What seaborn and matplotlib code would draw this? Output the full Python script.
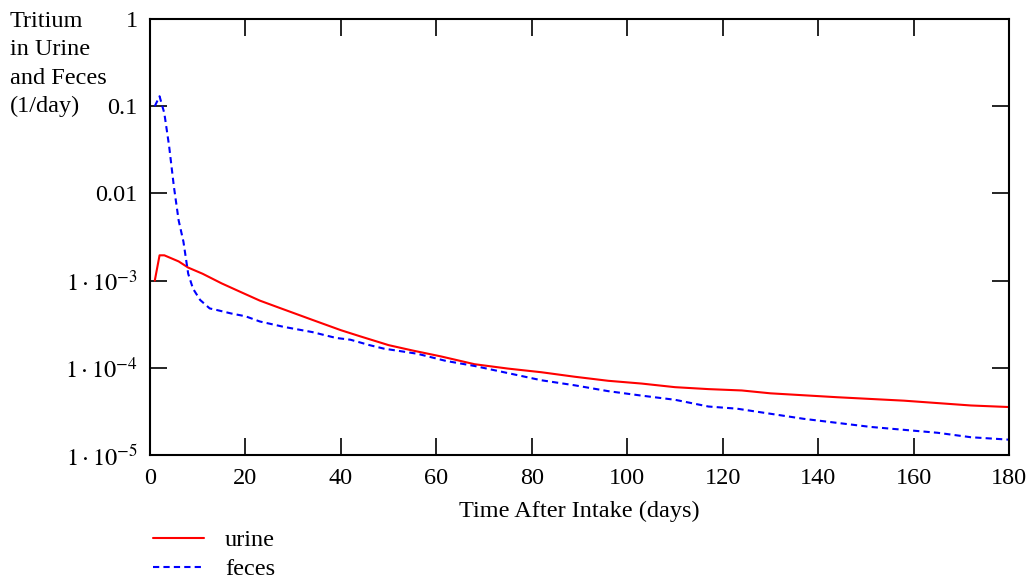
import matplotlib

matplotlib.use("Agg")
import matplotlib.pyplot as plt
import matplotlib.ticker as mticker
import seaborn as sns

# values (days after intake, fraction per day)
urine_days = [1, 2, 3, 6, 8, 11, 15, 19, 23, 27, 34, 40, 44, 50, 55, 61, 68,
              75, 82, 89, 96, 103, 110, 117, 124, 130, 144, 158, 172, 180]
urine = [1.0e-3, 1.95e-3, 1.95e-3, 1.66e-3, 1.41e-3, 1.20e-3, 9.3e-4, 7.4e-4,
         5.9e-4, 4.9e-4, 3.55e-4, 2.7e-4, 2.3e-4, 1.82e-4, 1.58e-4, 1.35e-4,
         1.10e-4, 9.8e-5, 8.9e-5, 7.9e-5, 7.1e-5, 6.6e-5, 6.0e-5, 5.7e-5,
         5.5e-5, 5.1e-5, 4.6e-5, 4.2e-5, 3.7e-5, 3.55e-5]

feces_days = [1, 2, 3, 4, 5, 6, 7, 8, 9, 10.5, 12.5, 14, 17, 20, 23, 28, 34,
              39, 42, 46, 49, 56, 62, 68, 75, 82, 89, 96, 103, 110, 117, 123,
              137, 151, 165, 172, 180]
feces = [0.10, 0.13, 0.083, 0.035, 0.012, 4.9e-3, 2.8e-3, 1.2e-3, 8.1e-4,
         6.0e-4, 4.8e-4, 4.6e-4, 4.2e-4, 3.9e-4, 3.4e-4, 2.95e-4, 2.57e-4,
         2.2e-4, 2.1e-4, 1.82e-4, 1.66e-4, 1.45e-4, 1.2e-4, 1.05e-4, 8.7e-5,
         7.2e-5, 6.3e-5, 5.4e-5, 4.8e-5, 4.3e-5, 3.6e-5, 3.4e-5, 2.6e-5,
         2.1e-5, 1.8e-5, 1.6e-5, 1.5e-5]

x_ticks = [0, 20, 40, 60, 80, 100, 120, 140, 160, 180]
y_ticks = [1, 0.1, 0.01, 1e-3, 1e-4, 1e-5]
y_tick_labels = ["1", "0.1", "0.01", r"$1\cdot10^{-3}$", r"$1\cdot10^{-4}$",
                 r"$1\cdot10^{-5}$"]

sns.set_style("ticks")
plt.rcParams["font.family"] = ["Liberation Serif", "DejaVu Serif"]
plt.rcParams["mathtext.fontset"] = "stix"
plt.rcParams["font.size"] = 17.5
plt.rcParams["text.color"] = "black"
plt.rcParams["axes.labelcolor"] = "black"

fig = plt.figure(figsize=(10.36, 5.86), dpi=100)
ax = fig.add_axes([0.1448, 0.2235, 0.8292, 0.7441])

sns.lineplot(x=urine_days, y=urine, ax=ax, color="#ff0000", linewidth=1.5,
             label="urine")
sns.lineplot(x=feces_days, y=feces, ax=ax, color="#0000ff", linewidth=1.5,
             linestyle=(0, (3, 2)), label="feces")

ax.set_yscale("log")
ax.set_xlim(0, 180)
ax.set_ylim(1e-5, 1)
ax.set_xticks(x_ticks)
ax.set_yticks(y_ticks)
ax.set_yticklabels(y_tick_labels)
ax.yaxis.set_minor_locator(mticker.NullLocator())
ax.tick_params(axis="both", which="major", direction="in", length=12,
               width=1.2, pad=9, labelsize=17.5, top=True, right=True,
               colors="black")
for side in ax.spines.values():
    side.set_linewidth(1.5)
    side.set_color("black")

ax.set_xlabel("Time After Intake (days)", fontsize=17.5, labelpad=9)
ax.set_ylabel("")
fig.text(10 / 1036, 1 - 11 / 586, "Tritium\nin Urine\nand Feces\n(1/day)",
         ha="left", va="top", fontsize=17.5, linespacing=1.46)

ax.legend(loc="upper left", bbox_to_anchor=(141 / 1036, 1 - 517 / 586),
          bbox_transform=fig.transFigure, frameon=False, borderpad=0,
          handlelength=2.1, handletextpad=0.85, labelspacing=0.3,
          fontsize=17.5)

plt.savefig("out.png", dpi=100)
plt.close()
